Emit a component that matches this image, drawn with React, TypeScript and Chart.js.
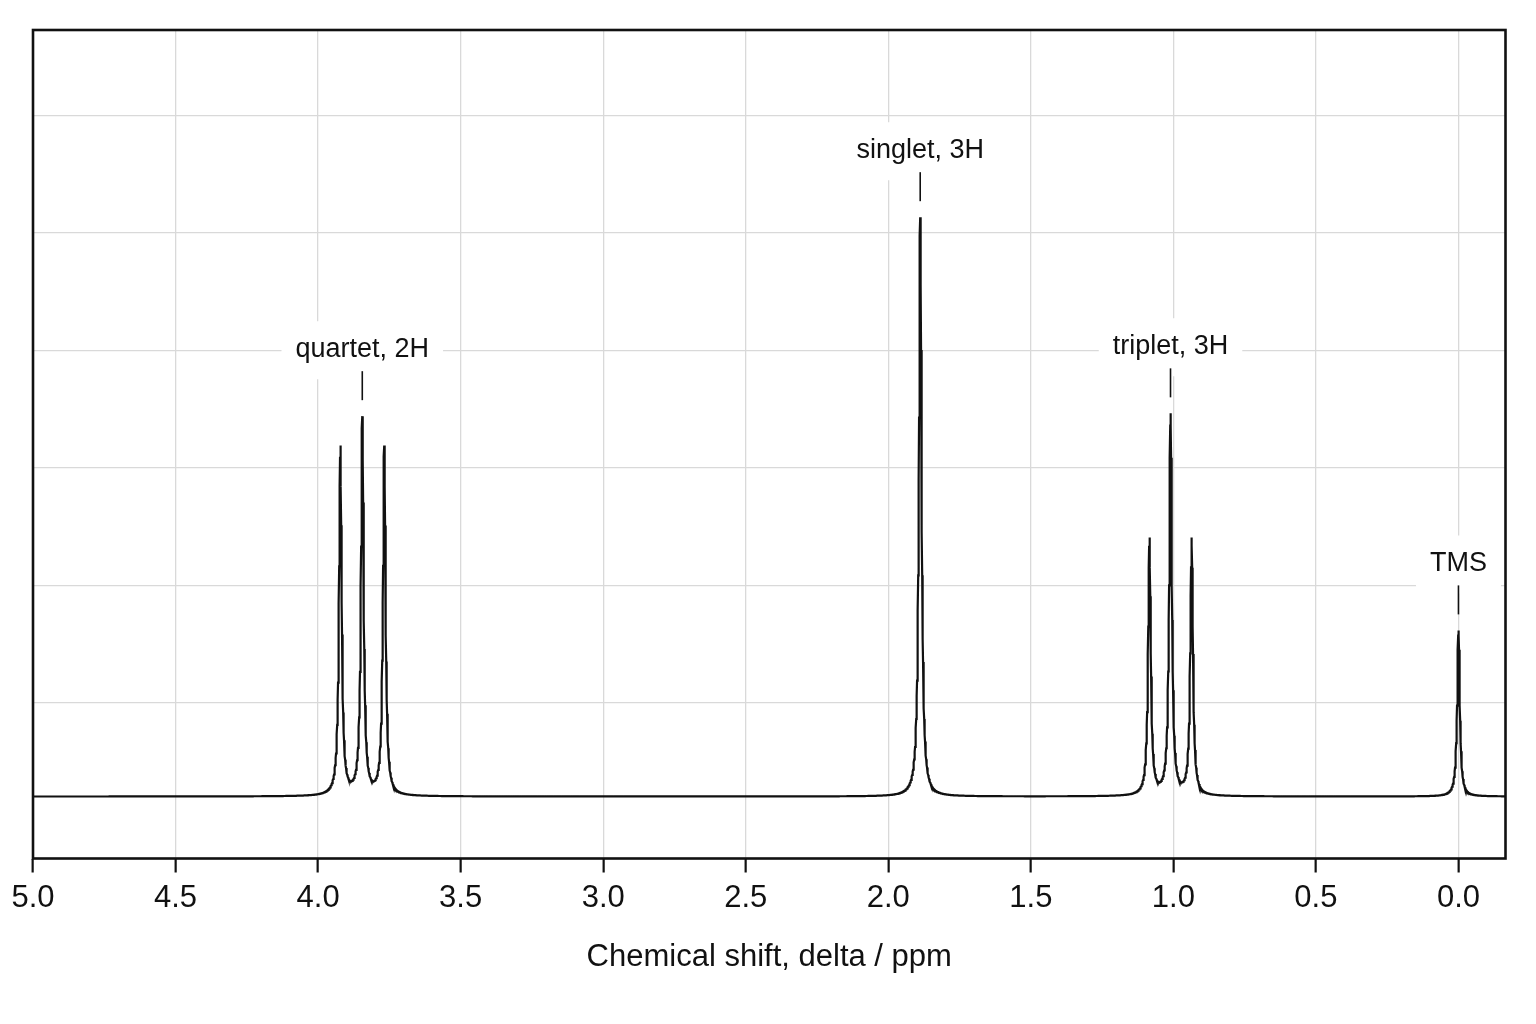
import React, { useEffect, useRef } from "react";
import { Chart, ChartConfiguration, Plugin, registerables } from "chart.js";

Chart.register(...registerables);

// peak list: shift in ppm, height in intensity units
const quartetShifts = [3.922, 3.845, 3.768];
const quartetHeights = [0.594, 0.642, 0.594];
const singletShifts = [1.888];
const singletHeights = [0.987];
const tripletShifts = [1.084, 1.01, 0.936];
const tripletHeights = [0.437, 0.648, 0.437];
const tmsShifts = [0.0];
const tmsHeights = [0.283];

// Lorentzian half width at half height, ppm
const lineHalfWidth = 0.0055;

const peakLabels = ["quartet, 2H", "singlet, 3H", "triplet, 3H", "TMS"];
const peakLabelShifts = [3.845, 1.888, 1.01, 0.0];

const xTicks = [5.0, 4.5, 4.0, 3.5, 3.0, 2.5, 2.0, 1.5, 1.0, 0.5, 0.0];
const yGrid = [0.16, 0.36, 0.56, 0.76, 0.96, 1.16];

const FONT = '"Liberation Sans", Arial, sans-serif';
const INK = "#111";

const allShifts = [...quartetShifts, ...singletShifts, ...tripletShifts, ...tmsShifts];
const allHeights = [...quartetHeights, ...singletHeights, ...tripletHeights, ...tmsHeights];

function intensity(ppm: number) {
  const w2 = lineHalfWidth * lineHalfWidth;
  let s = 0;
  for (let i = 0; i < allShifts.length; i++) {
    const d = ppm - allShifts[i];
    s += (allHeights[i] * w2) / (d * d + w2);
  }
  return s;
}

// sample the line shape every 0.001 ppm (peak centres sit on the grid)
const spectrum: { x: number; y: number }[] = [];
for (let i = 5000; i >= -165; i--) {
  const ppm = i / 1000;
  spectrum.push({ x: ppm, y: intensity(ppm) });
}

const background: Plugin = {
  id: "background",
  beforeDraw(chart) {
    const { ctx, width, height } = chart;
    ctx.save();
    ctx.fillStyle = "#fff";
    ctx.fillRect(0, 0, width, height);
    ctx.restore();
  },
};

const frameAndLabels: Plugin = {
  id: "frameAndLabels",
  afterDraw(chart) {
    const { ctx, chartArea, scales } = chart;
    const x = scales.x;
    const y = scales.y;
    ctx.save();

    // peak annotations
    ctx.font = `27px ${FONT}`;
    ctx.textAlign = "center";
    ctx.textBaseline = "middle";
    peakLabels.forEach((text, i) => {
      const px = x.getPixelForValue(peakLabelShifts[i]);
      const top = y.getPixelForValue(intensity(peakLabelShifts[i]));
      const cy = top - 67;
      const w = ctx.measureText(text).width;
      ctx.fillStyle = "#fff";
      ctx.beginPath();
      ctx.roundRect(px - w / 2 - 14, cy - 28, w + 28, 58, 8);
      ctx.fill();
      ctx.fillStyle = INK;
      ctx.fillText(text, px, cy);
      ctx.strokeStyle = INK;
      ctx.lineWidth = 1.6;
      ctx.beginPath();
      ctx.moveTo(px, top - 45);
      ctx.lineTo(px, top - 16);
      ctx.stroke();
    });

    // plot frame
    ctx.strokeStyle = INK;
    ctx.lineWidth = 2.6;
    ctx.strokeRect(
      chartArea.left,
      chartArea.top,
      chartArea.right - chartArea.left,
      chartArea.bottom - chartArea.top
    );
    ctx.restore();
  },
};

const config: ChartConfiguration<"line", { x: number; y: number }[]> = {
  type: "line",
  data: {
    datasets: [
      {
        data: spectrum,
        borderColor: INK,
        borderWidth: 2.2,
        pointRadius: 0,
        tension: 0,
        fill: false,
      },
    ],
  },
  options: {
    animation: false,
    responsive: false,
    layout: { padding: { left: 33, right: 30.5, top: 30, bottom: 0 } },
    plugins: {
      legend: { display: false },
      tooltip: { enabled: false },
    },
    scales: {
      x: {
        type: "linear",
        reverse: true,
        min: -0.165,
        max: 5.0,
        afterBuildTicks: (scale) => {
          scale.ticks = xTicks.map((v) => ({ value: v }));
        },
        afterFit: (scale) => {
          scale.height = 165.5;
        },
        border: { display: false },
        grid: {
          color: "#d9d9d9",
          lineWidth: 1.3,
          drawTicks: true,
          tickLength: 14,
          tickColor: INK,
          tickWidth: 2.2,
        },
        ticks: {
          color: INK,
          font: { family: FONT, size: 31 },
          padding: 7,
          maxRotation: 0,
          autoSkip: false,
          callback: (v) => Number(v).toFixed(1),
        },
        title: {
          display: true,
          text: "Chemical shift, delta / ppm",
          color: INK,
          font: { family: FONT, size: 31 },
          padding: { top: 0, bottom: 48 },
        },
      },
      y: {
        type: "linear",
        min: -0.1056,
        max: 1.306,
        afterBuildTicks: (scale) => {
          scale.ticks = yGrid.map((v) => ({ value: v }));
        },
        border: { display: false },
        grid: { color: "#d9d9d9", lineWidth: 1.3, drawTicks: false },
        ticks: { display: false },
      },
    },
  },
  plugins: [background, frameAndLabels],
};

export default function App() {
  const canvasRef = useRef<HTMLCanvasElement | null>(null);

  useEffect(() => {
    if (!canvasRef.current) {
      return;
    }
    const chart = new Chart(canvasRef.current, config);
    return () => {
      chart.destroy();
    };
  }, []);

  return (
    <div style={{ position: "fixed", left: 0, top: 0, width: 1536, height: 1024, background: "#fff" }}>
      <canvas ref={canvasRef} width={1536} height={1024} style={{ display: "block" }}></canvas>
    </div>
  );
}
